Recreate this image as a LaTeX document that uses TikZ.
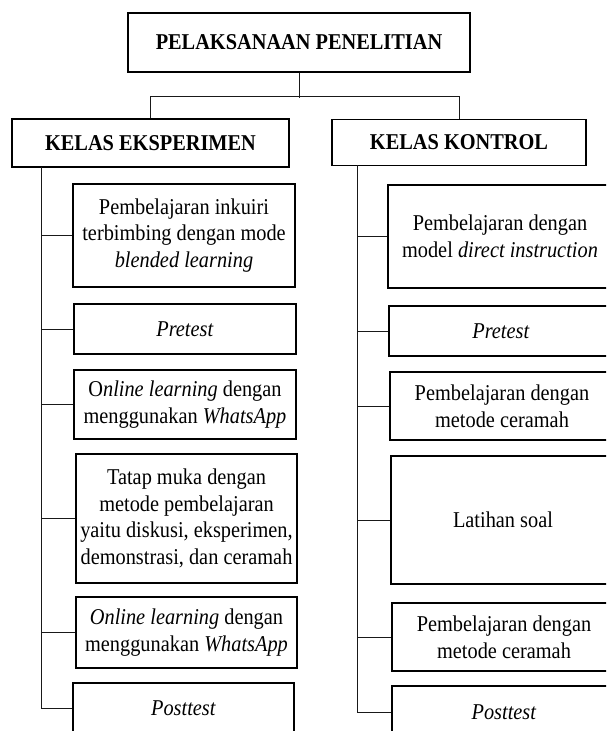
\documentclass[tikz,border=0pt]{standalone}
\usepackage{fontspec}
\setmainfont{Liberation Serif}[FakeStretch=0.9]
\tikzset{
  stepbox/.style={draw, line width=1.1pt, align=center, inner sep=0pt,
    font=\fontsize{22.6}{26.7}\selectfont},
  headbox/.style={stepbox, font=\fontsize{22.6}{26.7}\selectfont\bfseries},
  link/.style={line width=0.9pt, black!90}
}
\begin{document}
\begin{tikzpicture}[x=1pt, y=-1pt]
    \useasboundingbox (0,0) rectangle (606,731);
    \clip (0,0) rectangle (606,731);

    \node[headbox, minimum width=342, minimum height=59] (top) at (299, 42.5){PELAKSANAAN PENELITIAN};
    \node[headbox, minimum width=277, minimum height=48] (eks) at (150.5, 143){KELAS EKSPERIMEN};
    \node[headbox, minimum width=254, minimum height=46] (kon) at (459, 142.5){KELAS KONTROL};

    \draw[link] (top.south) -- ++(0,25);
    \draw[link] (eks.north) -- ++(0,-22) -| (kon.north);

    % kelas eksperimen
    \node[stepbox, minimum width=222, minimum height=103] (e1) at (184, 235.5){Pembelajaran inkuiri\\ terbimbing dengan mode\\ \textit{blended learning}};
    \node[stepbox, minimum width=222, minimum height=50] (e2) at (185, 329){\textit{Pretest}};
    \node[stepbox, minimum width=222, minimum height=69] (e3) at (185, 404.5){O\textit{nline learning} dengan\\ menggunakan \textit{WhatsApp}};
    \node[stepbox, minimum width=221, minimum height=129] (e4) at (186.5, 518.5){Tatap muka dengan\\ metode pembelajaran\\ yaitu diskusi, eksperimen,\\ demonstrasi, dan ceramah};
    \node[stepbox, minimum width=221, minimum height=71] (e5) at (186.5, 632.5){\textit{Online learning} dengan\\ menggunakan \textit{WhatsApp}};
    \node[stepbox, minimum width=221, minimum height=50] (e6) at (183.5, 708){\textit{Posttest}};

    \coordinate (etrunk) at (41, 167);
    \draw[link] (etrunk) |- (e6.west);
    \foreach \b in {e1,e2,e3,e4,e5}
        \draw[link] (\b.west) -- (\b.west -| etrunk);

    % kelas kontrol
    \node[stepbox, minimum width=224, minimum height=103] (k1) at (500, 236.5){Pembelajaran dengan\\ model \textit{direct instruction}};
    \node[stepbox, minimum width=224, minimum height=50] (k2) at (501, 331){\textit{Pretest}};
    \node[stepbox, minimum width=224, minimum height=68] (k3) at (502, 406){Pembelajaran dengan\\ metode ceramah};
    \node[stepbox, minimum width=224, minimum height=128] (k4) at (503, 520){Latihan soal};
    \node[stepbox, minimum width=224, minimum height=68] (k5) at (504, 637){Pembelajaran dengan\\ metode ceramah};
    \node[stepbox, minimum width=224, minimum height=52] (k6) at (504, 712){\textit{Posttest}};

    \coordinate (ktrunk) at (357, 165);
    \draw[link] (ktrunk) |- (k6.west);
    \foreach \b in {k1,k2,k3,k4,k5}
        \draw[link] (\b.west) -- (\b.west -| ktrunk);
\end{tikzpicture}
\end{document}
